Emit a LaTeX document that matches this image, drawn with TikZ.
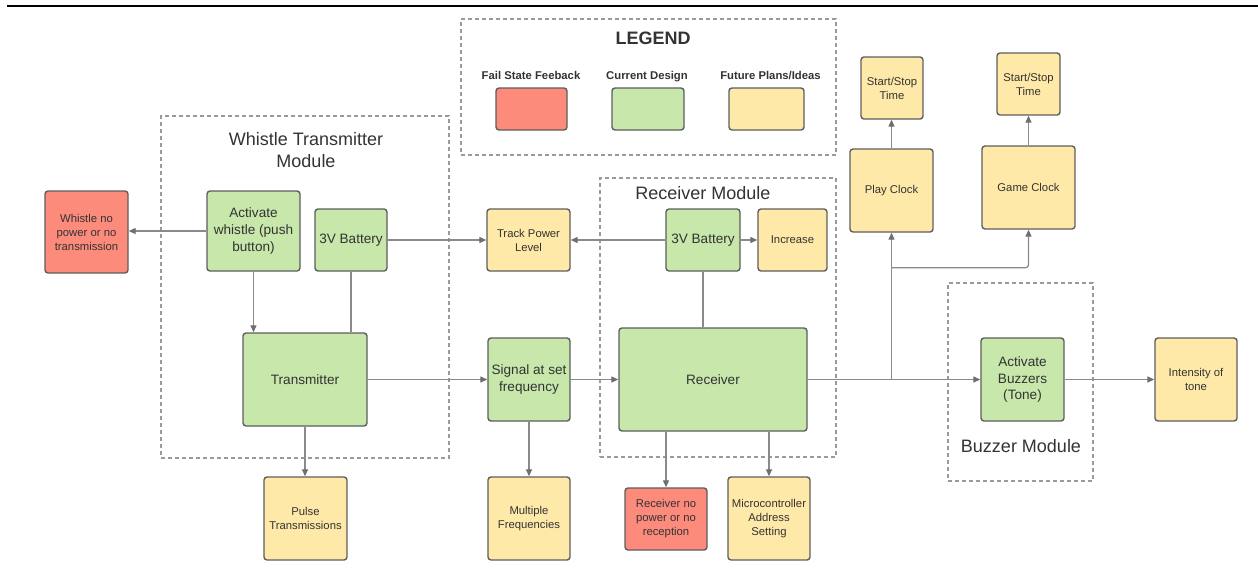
\documentclass[tikz,border=0pt]{standalone}
\usepackage{fontspec}
\setmainfont{Liberation Sans}
\usetikzlibrary{arrows.meta}
\definecolor{fred}{HTML}{FC8B7B}
\definecolor{fgreen}{HTML}{C7E7AB}
\definecolor{fyellow}{HTML}{FFE9A8}
\definecolor{bordcol}{HTML}{5E5E5E}
\definecolor{conncol}{HTML}{8A8A8A}
\definecolor{tipcol}{HTML}{6E6E6E}
\definecolor{txtcol}{HTML}{333333}
\definecolor{dashcol}{HTML}{9A9A9A}
\begin{document}
\begin{tikzpicture}[x=1pt,y=-1pt,
 fbox/.style={draw=bordcol, line width=1.4pt, rounded corners=3pt, inner sep=1pt, align=center, text=txtcol},
 redbox/.style={fbox, fill=fred},
 grnbox/.style={fbox, fill=fgreen},
 ylwbox/.style={fbox, fill=fyellow},
 txts/.style={font=\fontsize{11.3}{14}\selectfont},
 txtm/.style={font=\fontsize{13.6}{16.7}\selectfont},
 bigt/.style={font=\fontsize{18}{22}\selectfont, text=txtcol, align=center, inner sep=0pt},
 lgl/.style={font=\bfseries\fontsize{11.3}{14}\selectfont, text=txtcol, inner sep=0pt, anchor=base},
 container/.style={draw=dashcol, line width=1.2pt, dash pattern=on 4pt off 3pt},
 cline/.style={draw=conncol, line width=1.3pt},
 arr/.style={cline, -{Triangle[length=7pt,width=6pt,color=tipcol]}},
]
\useasboundingbox (0,0) rectangle (1258,582);
\draw[line width=1.7pt] (7,5.8) -- (1258,5.8);

% containers
\node[container, minimum width=288pt, minimum height=342pt] (wtm) at (305,287) {};
\node[container, minimum width=375pt, minimum height=136pt] (leg) at (648.5,87) {};
\node[container, minimum width=236pt, minimum height=279pt] (rxm) at (718,317.5) {};
\node[container, minimum width=145pt, minimum height=198pt] (bzm) at (1020.5,382) {};

% titles
\node[bigt] (wtmt) at (306,150.5) {Whistle Transmitter\\Module};
\node[bigt] (rxmt) at (703,193.5) {Receiver Module};
\node[bigt] (bzmt) at (1021,446) {Buzzer Module};
\node[font=\bfseries\fontsize{18}{22}\selectfont, text=txtcol, inner sep=0pt] (legt) at (653,38.5) {LEGEND};

% legend
\node[lgl] (l1) at (531,79) {Fail State Feeback};
\node[lgl] (l2) at (647,79) {Current Design};
\node[lgl] (l3) at (770.5,79) {Future Plans/Ideas};
\node[redbox, minimum width=71pt, minimum height=42pt] (sw1) at (531.5,109) {};
\node[grnbox, minimum width=72pt, minimum height=42pt] (sw2) at (648,109) {};
\node[ylwbox, minimum width=75pt, minimum height=42pt] (sw3) at (766.5,109) {};

% boxes
\node[redbox, txts, minimum width=83pt, minimum height=82pt] (wnp) at (86.5,232) {Whistle no\\power or no\\transmission};
\node[grnbox, txtm, minimum width=93pt, minimum height=80pt] (act) at (253.5,231) {Activate\\whistle (push\\button)};
\node[grnbox, txtm, minimum width=72pt, minimum height=62pt] (bat1) at (351,240) {3V Battery};
\node[ylwbox, txts, minimum width=83pt, minimum height=62pt] (trk) at (528.5,240) {Track Power\\Level};
\node[grnbox, txtm, minimum width=74pt, minimum height=62pt] (bat2) at (703,240) {3V Battery};
\node[ylwbox, txts, minimum width=69pt, minimum height=62pt] (inc) at (792.5,240) {Increase};
\node[grnbox, txtm, minimum width=124pt, minimum height=93pt] (tx) at (305,379.5) {Transmitter};
\node[grnbox, txtm, minimum width=82pt, minimum height=83pt] (sig) at (529,379.5) {Signal at set\\frequency};
\node[grnbox, txtm, minimum width=188pt, minimum height=103pt] (rx) at (713,379.5) {Receiver};
\node[grnbox, txtm, minimum width=83pt, minimum height=83pt] (buz) at (1022.5,379.5) {Activate\\Buzzers\\(Tone)};
\node[ylwbox, txts, minimum width=82pt, minimum height=83pt] (int) at (1196,379.5) {Intensity of\\tone};
\node[ylwbox, txts, minimum width=83pt, minimum height=83pt] (pulse) at (305.5,518.5) {Pulse\\Transmissions};
\node[ylwbox, txts, minimum width=82pt, minimum height=83pt] (mult) at (529,518.5) {Multiple\\Frequencies};
\node[redbox, txts, minimum width=82pt, minimum height=62pt] (rnp) at (666,519) {Receiver no\\power or no\\reception};
\node[ylwbox, txts, minimum width=82pt, minimum height=83pt] (mcu) at (769,518.5) {Microcontroller\\Address\\Setting};
\node[ylwbox, txts, minimum width=83pt, minimum height=83pt] (play) at (891.5,190.5) {Play Clock};
\node[ylwbox, txts, minimum width=62pt, minimum height=62pt] (ss1) at (892,88) {Start/Stop\\Time};
\node[ylwbox, txts, minimum width=93pt, minimum height=83pt] (game) at (1028.5,187.5) {Game Clock};
\node[ylwbox, txts, minimum width=63pt, minimum height=62pt] (ss2) at (1028.5,84) {Start/Stop\\Time};

% connectors
\draw[arr] (act.west) -- (act.west -| wnp.east);
\draw[arr] (act.south) -- (act.south |- tx.north);
\draw[cline] (bat1.south) -- (bat1.south |- tx.north);
\draw[arr] (bat1.east) -- (trk.west);
\draw[arr] (bat2.west) -- (trk.east);
\draw[arr] (bat2.east) -- (inc.west);
\draw[cline] (bat2.south) -- (bat2.south |- rx.north);
\draw[arr] (tx.east) -- (sig.west);
\draw[arr] (sig.east) -- (rx.west);
\draw[arr] (tx.south) -- (tx.south |- pulse.north);
\draw[arr] (sig.south) -- (mult.north);
\draw[arr] (rnp.north |- rx.south) -- (rnp.north);
\draw[arr] (mcu.north |- rx.south) -- (mcu.north);
\draw[arr] (rx.east) -- (buz.west);
\coordinate (j) at (play.south |- rx.east);
\path (play.south) ++(0,35) coordinate (br);
\draw[arr] (j) -- (play.south);
\draw[arr, rounded corners=3pt] (br) -| (game.south);
\draw[arr] (play.north) -- (play.north |- ss1.south);
\draw[arr] (game.north) -- (ss2.south);
\draw[arr] (buz.east) -- (int.west);
\end{tikzpicture}
\end{document}
